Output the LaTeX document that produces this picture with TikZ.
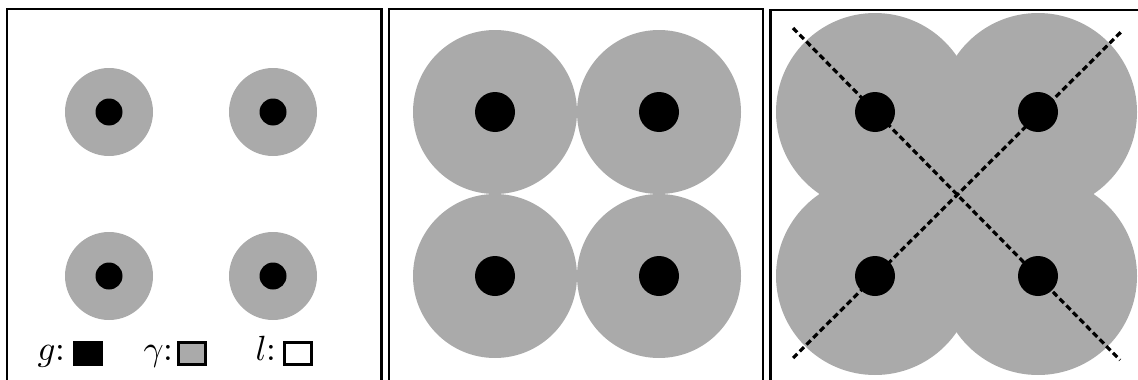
\documentclass[tikz,border=0pt]{standalone}
\definecolor{ringgray}{RGB}{170,170,170}
\tikzset{
  frame/.style={draw=black, line width=2.6pt},
  ringS/.style={circle, fill=ringgray, inner sep=0pt, minimum size=88pt},
  ringM/.style={circle, fill=ringgray, inner sep=0pt, minimum size=164pt},
  ringL/.style={circle, fill=ringgray, inner sep=0pt, minimum size=198pt},
  dotS/.style={circle, fill=black, inner sep=0pt, minimum size=27pt},
  dotL/.style={circle, fill=black, inner sep=0pt, minimum size=40pt},
  diag/.style={draw=black, line width=3.2pt, dash pattern=on 6pt off 3.5pt},
  legtext/.style={anchor=base west, inner sep=0pt, scale=3.5},
}
\begin{document}
\begin{tikzpicture}[x=1pt, y=-1pt]
\useasboundingbox (0,0) rectangle (1138,380);
% frames
\draw[frame] (7,395) -- (7,9) -- (381.5,9) -- (381.5,395);
\draw[frame] (389,395) -- (389,9) -- (763,9) -- (763,395);
\draw[frame] (770.5,395) -- (770.5,10) -- (1150,10);
% panel 1
\foreach \n/\x/\y in {a/109/112, b/273/112, c/109/276, d/273/276}{
  \node[ringS] (r1\n) at (\x,\y) {};
  \node[dotS] (d1\n) at (\x,\y) {};
}
% panel 2
\foreach \n/\x/\y in {a/495/112, b/659/112, c/495/276, d/659/276}{
  \node[ringM] (r2\n) at (\x,\y) {};
}
\foreach \n/\x/\y in {a/495/112, b/659/112, c/495/276, d/659/276}{
  \node[dotL] (d2\n) at (\x,\y) {};
}
% panel 3
\foreach \n/\x/\y in {a/875/112, b/1038/112, c/875/276, d/1038/276}{
  \node[ringL] (r3\n) at (\x,\y) {};
}
\fill[ringgray] (r3a.center) rectangle (r3d.center);
\foreach \n/\x/\y in {a/875/112, b/1038/112, c/875/276, d/1038/276}{
  \node[dotL] (d3\n) at (\x,\y) {};
}
\coordinate (tl) at (793,28);
\coordinate (br) at (1120,360);
\coordinate (bl) at (793,358);
\coordinate (tr) at (1123,30);
\draw[diag] (tl) -- (br);
\draw[diag] (bl) -- (tr);
% legend
\node[legtext] (lg) at (37,360) {$g$:};
\node[legtext] (lgam) at (143,360) {$\gamma$:};
\node[legtext] (ll) at (255,360) {$l$:};
\fill[black] (73,341) rectangle (103,366);
\node[draw=black, line width=3pt, fill=ringgray, inner sep=0pt, minimum width=27pt, minimum height=22pt] (sgam) at (191.5,353.5) {};
\node[draw=black, line width=3pt, fill=white, inner sep=0pt, minimum width=27pt, minimum height=22pt] (sl) at (297.5,353.5) {};
\end{tikzpicture}
\end{document}
